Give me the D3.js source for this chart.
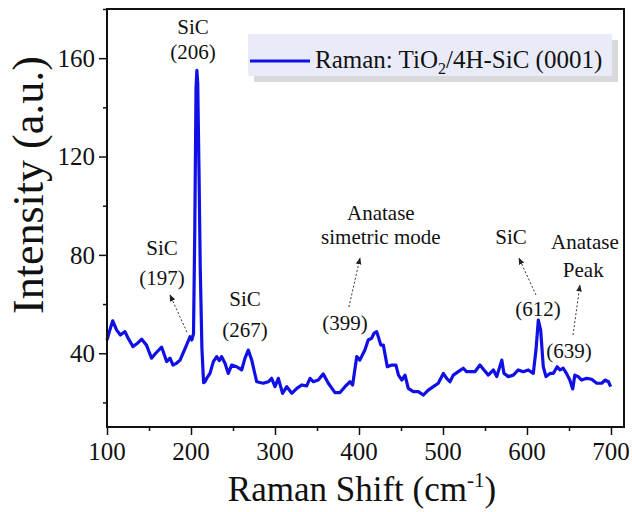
<!DOCTYPE html>
<html><head><meta charset="utf-8">
<script src="https://cdn.jsdelivr.net/npm/d3@7"></script>
<style>
html,body{margin:0;padding:0;background:#fff;}
svg text{font-family:"Liberation Serif","Times New Roman",serif;fill:#111;}
</style></head>
<body><svg id="c" width="632" height="512"></svg>
<script>
const shift = [100,103,106.8,111.5,116,121.4,125,131,136,141.3,147,153,158,165,171,175,178.6,183,187,193,198.8,201,203,204.5,206,207,208,209.5,211,213,215,216.7,219,222.6,226.6,230.6,233.7,236.5,240.5,244.4,248.4,254.4,260.3,264.3,268.2,272.3,278.2,286,292,296,300,304,309,314,320,326,331.8,337.7,341.7,345.6,351.5,357.5,363.5,371.4,377.4,383.3,389.3,392.4,397.3,401,407,411,415,417.9,421,423,426,429,433.7,439,444,447,451,454.8,458.7,464.7,470.6,476.5,482.5,488.5,494.4,500.4,504.4,508.3,512.3,518.2,524.2,528,532,538,544,548.8,554,560,564,570,572.6,577.8,583.7,589.6,595.6,601.6,607.5,610.7,613.5,616.3,619.4,622.6,627.4,631.3,636,639.3,643.2,647,651,654.4,657,661,665,671,677,683,689,692.9,697,699.6];
const intensity = [45.4,49,53.2,49.4,47.4,48.8,46.2,42.7,44,45.7,43.3,38,40,42.5,36.6,38,35.2,36,37.2,42,46.7,45.4,48,90,148,155,150,115,75,42,28,28.4,30,31.8,36.6,38.6,37,38.6,35.9,31.8,35.2,34.5,33.2,38,41.3,37.2,28.4,27.8,28.4,29.8,26.4,29.8,23.7,26.4,23.7,25.7,27.1,26.7,29.8,28.4,29.1,31.6,27.8,24,24,26.4,28.4,27.1,38.6,37.2,41.3,45.4,46.1,48.1,48.8,46.7,43.3,43.3,34.5,35.2,35.2,31.1,29.1,31.1,25.7,24.4,24.4,23,25,26.4,27.8,31.8,29.8,28.4,31.1,32.5,33.9,32.5,32.5,32.5,35.2,33.2,31.1,33.2,30.5,37.2,31.8,30.5,31.1,33.2,32.5,33.2,31.8,41.3,53.5,49.4,34.5,30.5,31.8,31.8,34.5,33.2,33.9,31.8,29.1,25.5,31.1,30.5,29.1,29.8,29.4,27.8,27.8,29.1,28.4,26.4];
const xTicks = [100,200,300,400,500,600,700];
const yTicks = [40,80,120,160];
const seriesName = "Raman: TiO";
// annotation labels: [x, y, text]
const labels = [
  [202.4,169.8,"SiC"],[202.4,159.5,"(206)"],
  [165.5,80,"SiC"],[165.5,67.7,"(197)"],
  [264.3,59.2,"SiC"],[264.3,46.6,"(267)"],
  [426,94.2,"Anatase"],[426,84.4,"simetric mode"],
  [383.3,49.4,"(399)"],
  [581,84.4,"SiC"],[613,55.1,"(612)"],
  [669,82.4,"Anatase"],[667,71,"Peak"],
  [650,38,"(639)"]
];
// arrows: [x0,y0,x1,y1] from data point to label
const arrows = [
  [195.2,48.6,175,63.7],
  [388,58.8,401.2,78.7],
  [610.7,63.7,590.5,78.7],
  [654.8,47.4,663,67.7]
];

const svg = d3.select("#c");
const L=107, R=624, T=9, B=427;
const x = d3.scaleLinear().domain([100,715.5]).range([L,R]);
const y = d3.scaleLinear().domain([10,180]).range([B,T]);

svg.append("defs").append("marker").attr("id","ah").attr("viewBox","0 0 10 10")
  .attr("refX",9).attr("refY",5).attr("markerWidth",7).attr("markerHeight",7)
  .attr("orient","auto").attr("markerUnits","userSpaceOnUse")
  .append("path").attr("d","M0,1 L10,5 L0,9 Z").attr("fill","#222");

// data line
const data = shift.map((s,i)=>[s,intensity[i]]);
svg.append("path").datum(data)
  .attr("d", d3.line().x(d=>x(d[0])).y(d=>y(d[1])))
  .attr("fill","none").attr("stroke","#1010e6").attr("stroke-width",3.2).attr("stroke-linejoin","round");

// frame
svg.append("rect").attr("x",L).attr("y",T).attr("width",R-L).attr("height",B-T)
  .attr("fill","none").attr("stroke","#111").attr("stroke-width",2);

// x axis
const xa = svg.append("g").attr("transform",`translate(0,${B})`);
xa.call(d3.axisBottom(x).tickValues(d3.range(100,701,50)).tickSize(8).tickFormat(""));
xa.selectAll(".tick line").attr("stroke","#111").attr("stroke-width",1.5)
  .attr("y2",d=>d%100===0?8:4);
xa.select(".domain").remove();
xa.selectAll(".lbl").data(xTicks).enter().append("text")
  .attr("x",d=>x(d)).attr("y",33).attr("text-anchor","middle").attr("font-size",25).text(d=>d);

// y axis
const ya = svg.append("g").attr("transform",`translate(${L},0)`);
ya.call(d3.axisLeft(y).tickValues(d3.range(20,181,20)).tickSize(8).tickFormat(""));
ya.selectAll(".tick line").attr("stroke","#111").attr("stroke-width",1.5)
  .attr("x2",d=>d%40===0?-8:-4);
ya.select(".domain").remove();
ya.selectAll(".lbl").data(yTicks).enter().append("text")
  .attr("x",-12).attr("y",d=>y(d)).attr("dy","0.35em").attr("text-anchor","end").attr("font-size",25).text(d=>d);

// axis titles
const xt = svg.append("text").attr("x",362).attr("y",501).attr("text-anchor","middle").attr("font-size",35);
xt.append("tspan").text("Raman Shift (cm");
xt.append("tspan").attr("font-size",21).attr("dy",-14).text("-1");
xt.append("tspan").attr("dy",14).text(")");
svg.append("text").attr("transform","translate(43,185) rotate(-90)").attr("text-anchor","middle")
  .attr("font-size",44).text("Intensity (a.u.)");

// annotations
svg.selectAll(".ann").data(labels).enter().append("text")
  .attr("x",d=>x(d[0])).attr("y",d=>y(d[1])).attr("text-anchor","middle").attr("font-size",21).text(d=>d[2]);
svg.selectAll(".arr").data(arrows).enter().append("line")
  .attr("x1",d=>x(d[0])).attr("y1",d=>y(d[1])).attr("x2",d=>x(d[2])).attr("y2",d=>y(d[3]))
  .attr("stroke","#333").attr("stroke-width",1).attr("stroke-dasharray","2,2").attr("marker-end","url(#ah)");

// legend
const lg = svg.append("g");
lg.append("rect").attr("x",254).attr("y",40).attr("width",364).attr("height",42).attr("fill","#d9d9dc");
lg.append("rect").attr("x",248).attr("y",34).attr("width",364).attr("height",42).attr("fill","#e9ebf8");
lg.append("line").attr("x1",250).attr("x2",310).attr("y1",61).attr("y2",61).attr("stroke","#1010e6").attr("stroke-width",3);
const lt = lg.append("text").attr("x",315).attr("y",68).attr("font-size",25);
lt.append("tspan").text(seriesName);
lt.append("tspan").attr("font-size",16).attr("dy",6).text("2");
lt.append("tspan").attr("dy",-6).text("/4H-SiC (0001)");
</script></body></html>
